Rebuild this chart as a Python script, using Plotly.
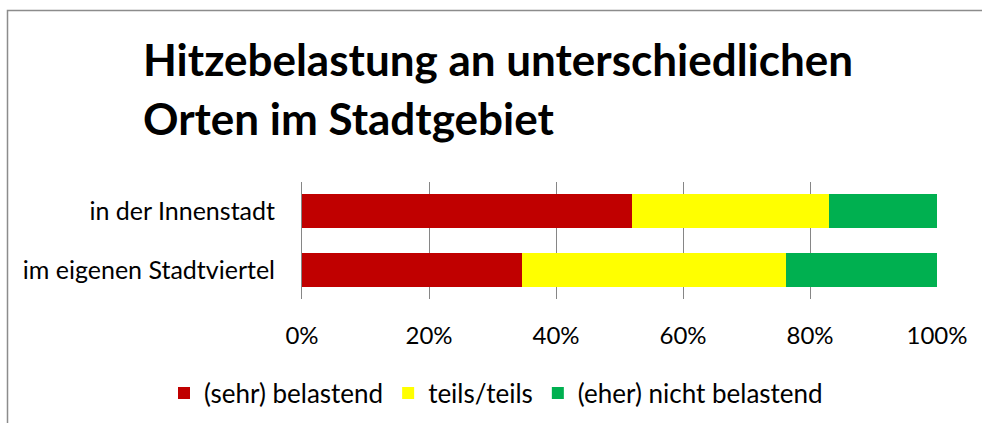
import plotly.graph_objects as go

# Survey data: share of answers per location (percent)
categories = ["in der Innenstadt", "im eigenen Stadtviertel"]
series_names = ["(sehr) belastend", "teils/teils", "(eher) nicht belastend"]
sehr_belastend = [52.0, 34.6]
teils_teils = [31.0, 41.6]
nicht_belastend = [17.0, 23.8]
series_colors = ["#C00000", "#FFFF00", "#00B050"]
tick_values = [0, 20, 40, 60, 80, 100]
tick_labels = ["0%", "20%", "40%", "60%", "80%", "100%"]
title_lines = ["Hitzebelastung an unterschiedlichen", "Orten im Stadtgebiet"]

W, H = 982, 423
L, R, T, B = 302, 45, 182, 124
PW, PH = W - L - R, H - T - B

def px_x(px):
    return (px - L) / PW

def px_y(py):
    return (H - B - py) / PH

FONT = "Lato"

fig = go.Figure()
for name, vals, col in zip(series_names, [sehr_belastend, teils_teils, nicht_belastend], series_colors):
    fig.add_trace(go.Bar(
        y=categories, x=vals, name=name, orientation="h",
        marker=dict(color=col, line=dict(width=0)),
    ))

fig.update_layout(
    width=W, height=H,
    margin=dict(l=L, r=R, t=T, b=B, pad=0, autoexpand=False),
    paper_bgcolor="white", plot_bgcolor="white",
    barmode="stack", bargap=0.42,
    font=dict(family=FONT, size=24, color="#000000"),
    showlegend=True,
    legend=dict(
        orientation="h", traceorder="normal",
        x=px_x(164), xanchor="left", y=px_y(393), yanchor="middle",
        font=dict(family=FONT, size=26, color="#000000"),
        itemwidth=30, bgcolor="rgba(0,0,0,0)",
    ),
    xaxis=dict(
        range=[0, 100], tickvals=tick_values, ticktext=tick_labels,
        showgrid=True, gridcolor="#868686", gridwidth=1,
        zeroline=False, showline=False, ticks="",
        ticklabelstandoff=20, fixedrange=True,
        tickfont=dict(family=FONT, size=24, color="#000000"),
    ),
    yaxis=dict(
        autorange="reversed", showline=True, linecolor="#868686", linewidth=1,
        ticks="", showgrid=False, ticklabelstandoff=21,
        tickfont=dict(family=FONT, size=25, color="#000000"),
    ),
    shapes=[dict(
        type="rect", xref="paper", yref="paper",
        x0=px_x(7.5), x1=px_x(995), y0=px_y(440), y1=px_y(10.5),
        line=dict(color="#8C8C8C", width=1.5), fillcolor="rgba(0,0,0,0)", layer="below",
    )],
)

for text, cy in zip(title_lines, [59, 118]):
    fig.add_annotation(
        text="<b>" + text + "</b>", xref="paper", yref="paper",
        x=px_x(141), y=px_y(cy), xanchor="left", yanchor="middle",
        showarrow=False, font=dict(family=FONT, size=44, color="#000000"),
    )

fig.write_html("out.html")
